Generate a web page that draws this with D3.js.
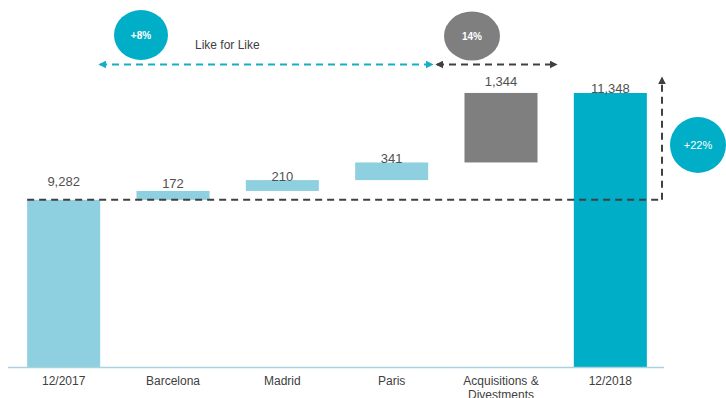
<!DOCTYPE html>
<html>
<head>
<meta charset="utf-8">
<script src="https://cdn.jsdelivr.net/npm/d3@7"></script>
<style>
  html, body { margin: 0; padding: 0; background: #fff; }
  svg { display: block; font-family: "Liberation Sans", Arial, sans-serif; }
</style>
</head>
<body>
<svg id="chart" width="726" height="398"></svg>
<script>
// Waterfall data: opening total, like-for-like steps, acquisitions, closing total
const categories = ["12/2017", "Barcelona", "Madrid", "Paris", "Acquisitions &\nDivestments", "12/2018"];
const values     = [9282, 172, 210, 341, 1344, 11348];
const kinds      = ["total", "step", "step", "step", "acq", "total-end"];
const valueLabels = ["9,282", "172", "210", "341", "1,344", "11,348"];
const bubbleLabels = ["+8%", "14%", "+22%"];
const bracketLabel = "Like for Like";

const svg = d3.select("#chart");

const x = d3.scaleBand()
  .domain(categories)
  .range([9, 665])
  .paddingInner(0.332)
  .paddingOuter(0.166);

const y = d3.scaleLinear()
  .domain([6050, 11348])
  .range([367, 93]);

// Build floating segments
let running = 0;
const bars = categories.map((c, i) => {
  let lo, hi;
  if (kinds[i] === "total" || kinds[i] === "total-end") {
    lo = y.domain()[0]; hi = values[i]; running = values[i];
  } else {
    lo = running; hi = running + values[i]; running = hi;
  }
  return { cat: c, lo, hi, kind: kinds[i], label: valueLabels[i] };
});

const fill = { "total": "#8ecfe0", "step": "#8ecfe0", "acq": "#7f7f7f", "total-end": "#00aec8" };

svg.append("g").selectAll("rect")
  .data(bars).join("rect")
  .attr("x", d => x(d.cat))
  .attr("width", x.bandwidth())
  .attr("y", d => y(d.hi))
  .attr("height", d => y(d.lo) - y(d.hi))
  .attr("fill", d => fill[d.kind]);

// Value labels above each bar
const labelGap = [14, 3, -1, -1, 7, 0];
svg.append("g").selectAll("text")
  .data(bars).join("text")
  .attr("x", d => x(d.cat) + x.bandwidth() / 2)
  .attr("y", (d, i) => y(d.hi) - labelGap[i])
  .attr("text-anchor", "middle")
  .attr("font-size", 13)
  .attr("fill", "#505050")
  .text(d => d.label);

// Baseline axis
const axisY = y(y.domain()[0]);
svg.append("line")
  .attr("x1", 8).attr("x2", 664)
  .attr("y1", axisY + 0.5).attr("y2", axisY + 0.5)
  .attr("stroke", "#a9d3de").attr("stroke-width", 1.5);

// Category labels (multi-line where needed)
const catG = svg.append("g");
categories.forEach(c => {
  const t = catG.append("text")
    .attr("x", x(c) + x.bandwidth() / 2)
    .attr("y", axisY + 18)
    .attr("text-anchor", "middle")
    .attr("font-size", 12)
    .attr("fill", "#404040");
  c.split("\n").forEach((line, k) => {
    t.append("tspan")
      .attr("x", x(c) + x.bandwidth() / 2)
      .attr("dy", k === 0 ? 0 : 14)
      .text(line);
  });
});

// Arrow markers
const defs = svg.append("defs");
function marker(id, color) {
  defs.append("marker")
    .attr("id", id)
    .attr("viewBox", "0 0 10 10")
    .attr("refX", 8).attr("refY", 5)
    .attr("markerWidth", 4).attr("markerHeight", 4)
    .attr("orient", "auto-start-reverse")
    .append("path")
    .attr("d", "M0,0 L10,5 L0,10 Z")
    .attr("fill", color);
}
marker("arrTeal", "#17afc6");
marker("arrGrey", "#404040");

// Reference line at the opening total
const refY = y(values[0]);
const rightX = 662;
svg.append("line")
  .attr("x1", x(categories[0])).attr("x2", rightX)
  .attr("y1", refY).attr("y2", refY)
  .attr("stroke", "#404040").attr("stroke-width", 2)
  .attr("stroke-dasharray", "7,5");

// Vertical growth arrow up to the closing total
svg.append("line")
  .attr("x1", rightX).attr("x2", rightX)
  .attr("y1", refY).attr("y2", 78)
  .attr("stroke", "#404040").attr("stroke-width", 2)
  .attr("stroke-dasharray", "7,5")
  .attr("marker-end", "url(#arrGrey)");

// Like-for-like bracket
const bracketY = 64.5;
svg.append("line")
  .attr("x1", 100).attr("x2", 432)
  .attr("y1", bracketY).attr("y2", bracketY)
  .attr("stroke", "#17afc6").attr("stroke-width", 2)
  .attr("stroke-dasharray", "7,5")
  .attr("marker-start", "url(#arrTeal)")
  .attr("marker-end", "url(#arrTeal)");

// Acquisitions bracket
svg.append("line")
  .attr("x1", 437).attr("x2", 556)
  .attr("y1", bracketY).attr("y2", bracketY)
  .attr("stroke", "#404040").attr("stroke-width", 2)
  .attr("stroke-dasharray", "7,5")
  .attr("marker-start", "url(#arrGrey)")
  .attr("marker-end", "url(#arrGrey)");

svg.append("text")
  .attr("x", 195).attr("y", 49)
  .attr("font-size", 12)
  .attr("fill", "#404040")
  .text(bracketLabel);

// Percentage bubbles
const bubbles = [
  { cx: 141, cy: 35, rx: 27, ry: 25, fill: "#00aec8", size: 10, weight: "bold" },
  { cx: 472, cy: 36, rx: 28, ry: 24.5, fill: "#7f7f7f", size: 10, weight: "bold" },
  { cx: 698, cy: 145, rx: 28, ry: 28, fill: "#00aec8", size: 11, weight: "normal" }
];
const bg = svg.append("g").selectAll("g")
  .data(bubbles).join("g");
bg.append("ellipse")
  .attr("cx", d => d.cx).attr("cy", d => d.cy)
  .attr("rx", d => d.rx).attr("ry", d => d.ry)
  .attr("fill", d => d.fill);
bg.append("text")
  .attr("x", d => d.cx).attr("y", d => d.cy)
  .attr("dy", "0.35em")
  .attr("text-anchor", "middle")
  .attr("font-size", d => d.size)
  .attr("font-weight", d => d.weight)
  .attr("fill", "#fff")
  .text((d, i) => bubbleLabels[i]);
</script>
</body>
</html>
